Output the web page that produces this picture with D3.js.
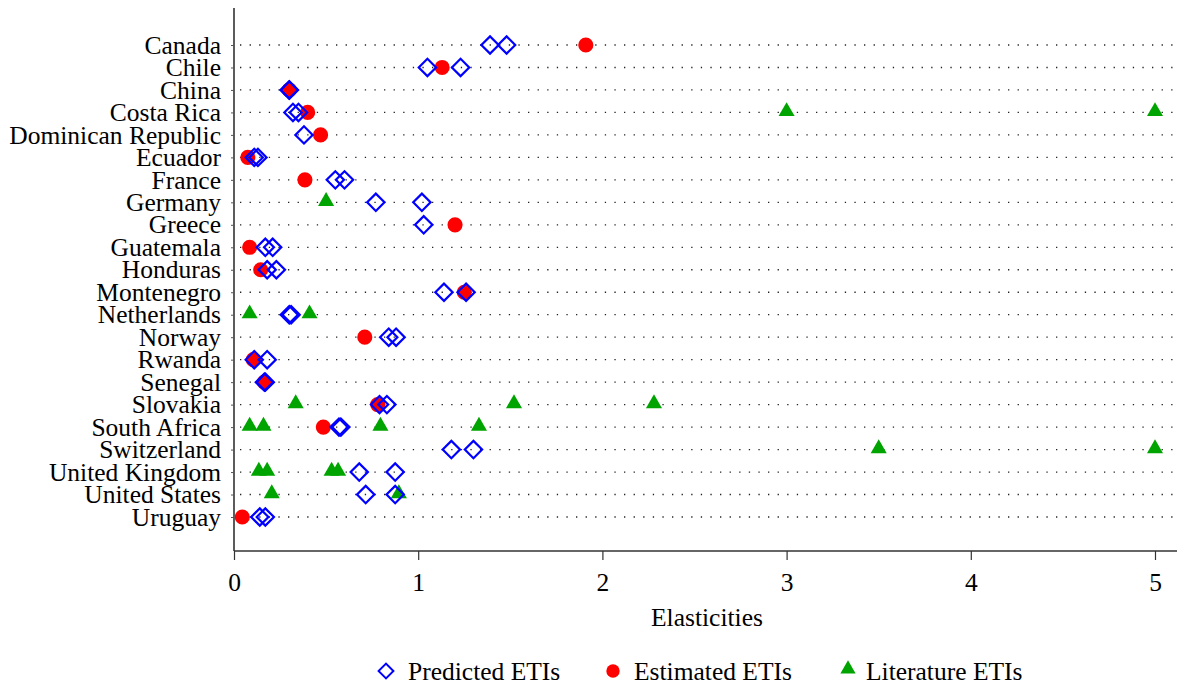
<!DOCTYPE html>
<html>
<head>
<meta charset="utf-8">
<script src="https://cdn.jsdelivr.net/npm/d3@7"></script>
<style>
  body { margin: 0; background: #fff; }
  text { font-family: "Liberation Serif", "Times New Roman", serif; fill: #000; }
</style>
</head>
<body>
<div id="chart"></div>
<script>
// countries, top to bottom
const countries = ['Canada', 'Chile', 'China', 'Costa Rica', 'Dominican Republic', 'Ecuador', 'France',
  'Germany', 'Greece', 'Guatemala', 'Honduras', 'Montenegro', 'Netherlands', 'Norway', 'Rwanda',
  'Senegal', 'Slovakia', 'South Africa', 'Switzerland', 'United Kingdom', 'United States', 'Uruguay'];

// predicted ETIs (up to two per country)
const predicted = [[1.39, 1.48], [1.05, 1.23], [0.30, 0.30], [0.32, 0.35], [0.38], [0.11, 0.13], [0.55, 0.60],
  [0.77, 1.02], [1.03], [0.17, 0.21], [0.18, 0.23], [1.14, 1.26], [0.30, 0.31], [0.84, 0.88], [0.11, 0.18],
  [0.165, 0.17], [0.79, 0.83], [0.57, 0.58], [1.18, 1.30], [0.68, 0.875], [0.715, 0.875], [0.14, 0.17]];

// estimated ETIs (null = none)
const estimated = [1.91, 1.13, 0.30, 0.40, 0.47, 0.075, 0.385,
  null, 1.20, 0.085, 0.145, 1.25, null, 0.71, 0.105,
  0.165, 0.78, 0.485, null, null, null, 0.045];

// literature ETIs
const literature = [[], [], [], [3.0, 5.0], [], [], [],
  [0.50], [], [], [], [], [0.085, 0.41], [], [],
  [], [0.335, 1.52, 2.28], [0.085, 0.16, 0.795, 1.33], [3.5, 5.0], [0.135, 0.18, 0.53, 0.565], [0.205, 0.895], []];

const xTicks = [0, 1, 2, 3, 4, 5];

const width = 1178, height = 690;
const plotLeft = 234, plotRight = 1177, plotTop = 8, plotBottom = 551;
const fontSize = '25.5px';

const svg = d3.select('#chart').append('svg')
  .attr('width', width)
  .attr('height', height);

const x = d3.scaleLinear().domain([0, 5]).range([plotLeft, 1155]);
const y = d3.scalePoint().domain(countries).range([45, 517]);

// dotted guide lines
svg.append('g')
  .selectAll('line')
  .data(countries)
  .enter()
  .append('line')
  .attr('x1', plotLeft + 6)
  .attr('x2', plotRight)
  .attr('y1', d => y(d))
  .attr('y2', d => y(d))
  .attr('stroke', '#222')
  .attr('stroke-width', 1.3)
  .attr('stroke-dasharray', '1.3 8.3');

// axes
const xAxis = svg.append('g')
  .attr('transform', `translate(0, ${plotBottom})`)
  .call(d3.axisBottom(x).tickValues(xTicks).tickFormat(d3.format('d')).tickSize(9).tickPadding(13).tickSizeOuter(0));
xAxis.select('.domain').attr('d', `M${plotLeft},0H${plotRight}`).attr('stroke', '#333').attr('stroke-width', 1.6);
xAxis.selectAll('.tick line').attr('stroke', '#333').attr('stroke-width', 1.2);
xAxis.selectAll('text').style('font-size', fontSize).style('font-family', '"Liberation Serif", serif');

const yAxis = svg.append('g')
  .attr('transform', `translate(${plotLeft}, 0)`)
  .call(d3.axisLeft(y).tickSize(3).tickPadding(10).tickSizeOuter(0));
yAxis.select('.domain').attr('d', `M0,${plotTop}V${plotBottom}`).attr('stroke', '#333').attr('stroke-width', 1.6);
yAxis.selectAll('.tick line').attr('stroke', '#555').attr('stroke-width', 1);
yAxis.selectAll('text').style('font-size', fontSize).style('font-family', '"Liberation Serif", serif');

svg.append('text')
  .attr('x', 707)
  .attr('y', 626)
  .attr('text-anchor', 'middle')
  .style('font-size', fontSize)
  .text('Elasticities');

const diamond = d3.symbol().type(d3.symbolSquare).size(150)();
const circle = d3.symbol().type(d3.symbolCircle).size(180)();
const triangle = d3.symbol().type(d3.symbolTriangle).size(112)();
const green = '#00a400';

const litPts = [];
literature.forEach((vals, i) => vals.forEach(v => litPts.push({ c: countries[i], v })));
const estPts = [];
estimated.forEach((v, i) => { if (v !== null) estPts.push({ c: countries[i], v }); });
const predPts = [];
predicted.forEach((vals, i) => vals.forEach(v => predPts.push({ c: countries[i], v })));

svg.append('g').selectAll('path')
  .data(litPts)
  .enter()
  .append('path')
  .attr('d', triangle)
  .attr('transform', d => `translate(${x(d.v)}, ${y(d.c) - 1})`)
  .attr('fill', green);

svg.append('g').selectAll('path')
  .data(estPts)
  .enter()
  .append('path')
  .attr('d', circle)
  .attr('transform', d => `translate(${x(d.v)}, ${y(d.c)})`)
  .attr('fill', '#ff0000');

svg.append('g').selectAll('path')
  .data(predPts)
  .enter()
  .append('path')
  .attr('d', diamond)
  .attr('transform', d => `translate(${x(d.v)}, ${y(d.c)}) rotate(45)`)
  .attr('fill', 'none')
  .attr('stroke', '#0000ff')
  .attr('stroke-width', 2.2);

// legend
const legendY = 671;
const legend = [
  { label: 'Predicted ETIs', sx: 386, tx: 408, kind: 'p' },
  { label: 'Estimated ETIs', sx: 613, tx: 634, kind: 'e' },
  { label: 'Literature ETIs', sx: 848, tx: 866, kind: 'l' }
];
const lg = svg.append('g');
legend.forEach(item => {
  if (item.kind === 'p') {
    lg.append('path').attr('d', d3.symbol().type(d3.symbolSquare).size(110)())
      .attr('transform', `translate(${item.sx}, ${legendY}) rotate(45)`)
      .attr('fill', 'none').attr('stroke', '#0000ff').attr('stroke-width', 2);
  } else if (item.kind === 'e') {
    lg.append('path').attr('d', d3.symbol().type(d3.symbolCircle).size(140)())
      .attr('transform', `translate(${item.sx}, ${legendY})`)
      .attr('fill', '#ff0000');
  } else {
    lg.append('path').attr('d', d3.symbol().type(d3.symbolTriangle).size(100)())
      .attr('transform', `translate(${item.sx}, ${legendY - 2})`)
      .attr('fill', green);
  }
  lg.append('text')
    .attr('x', item.tx)
    .attr('y', legendY)
    .attr('dy', '0.35em')
    .style('font-size', fontSize)
    .text(item.label);
});
</script>
</body>
</html>
